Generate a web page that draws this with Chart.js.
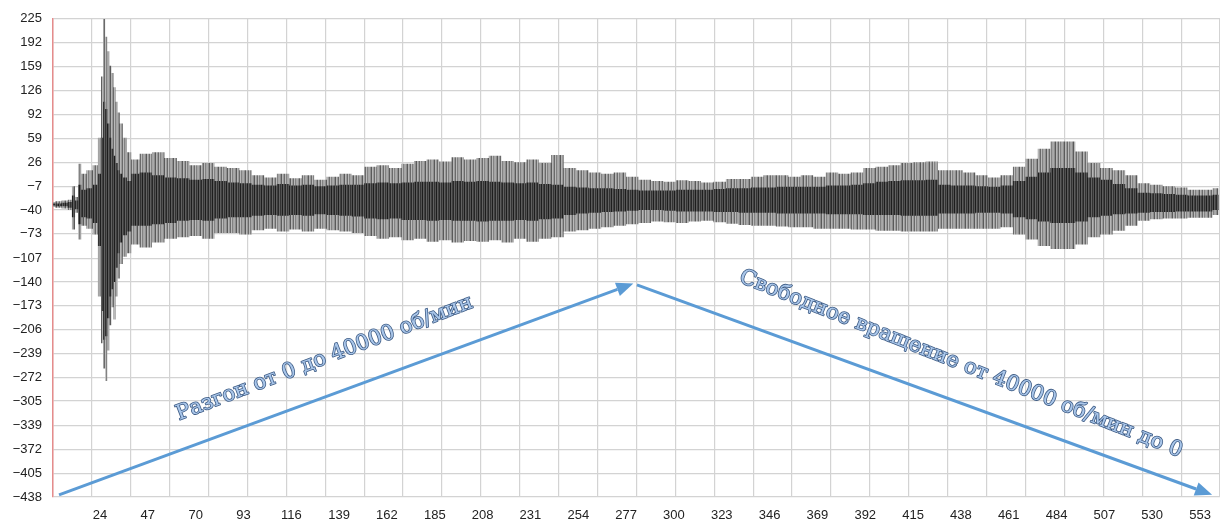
<!DOCTYPE html>
<html>
<head>
<meta charset="utf-8">
<script src="https://cdn.jsdelivr.net/npm/chart.js@4"></script>
<style>
  body { margin: 0; background: #fff; }
  canvas { display: block; }
</style>
</head>
<body>
<canvas id="vibChart" width="1220" height="522"></canvas>
<script>
// Vibration signal envelope (x = sample index)
const sampleX = [1, 4, 7, 10, 11, 13, 14, 16, 19, 22,
  24, 25, 26, 27, 28, 29, 30, 31, 32, 33, 34, 36, 38,
  40, 46, 52, 58, 64, 70, 76, 82, 88, 94, 100, 106, 112, 118, 124, 130, 136, 142, 148, 154,
  160, 166, 172, 178, 184, 190, 196, 202, 208, 214, 220, 226, 232, 238, 244, 250, 256, 262,
  268, 274, 280, 286, 292, 298, 304, 310, 316, 322, 328, 334, 340, 346, 352, 358, 364, 370,
  376, 382, 388, 394, 400, 406, 412, 418, 424, 430, 436, 442, 448, 454, 460, 466, 472, 478,
  484, 490, 496, 502, 508, 514, 520, 526, 532, 538, 544, 550, 556, 562];

// outer (light) envelope
const outerHigh = [-29, -28, -27, -26, -7, -22, 24, 10, 15, 22,
  60, 145, 225, 200, 180, 160, 150, 130, 110, 95, 80, 60, 40,
  30, 38, 40, 32, 28, 22, 25, 20, 18, 15, 8, 5, 10, 4, 8, 2, 6, 10, 8, 20,
  22, 18, 24, 28, 30, 27, 33, 30, 32, 35, 28, 26, 30, 25, 36, 18, 15, 12,
  10, 12, 6, 2, 0, -1, 1, 0, -2, -1, 3, 3, 6, 8, 8, 6, 8, 6,
  12, 10, 12, 18, 20, 22, 25, 26, 27, 15, 15, 12, 8, 5, 8, 20, 31, 45,
  55, 55, 41, 25, 18, 15, 8, -3, -5, -7, -9, -12, -12, -10];
const outerLow = [-36, -37, -38, -40, -67, -44, -81, -62, -66, -74,
  -160, -225, -260, -277, -235, -200, -175, -192, -160, -135, -115, -105, -100,
  -88, -92, -85, -80, -78, -76, -80, -72, -72, -74, -68, -66, -70, -67, -70, -66, -68, -70, -72, -76,
  -80, -78, -82, -80, -84, -82, -85, -83, -84, -82, -85, -80, -84, -80, -78, -70, -68, -66,
  -64, -62, -60, -58, -56, -57, -58, -56, -55, -57, -59, -61, -62, -62, -63, -64, -64, -66,
  -66, -66, -67, -67, -69, -69, -70, -70, -70, -66, -66, -66, -66, -66, -64, -74, -81, -90,
  -94, -94, -88, -78, -74, -69, -62, -55, -53, -52, -52, -51, -51, -47];

// inner (dark) core
const innerHigh = [-31, -31, -30, -29, -20, -27, -5, -12, -10, -5,
  10, 60, 110, 100, 80, 60, 45, 35, 25, 15, 10, 5, 0,
  10, 12, 8, 5, 4, 2, 3, 0, -2, -3, -5, -6, -4, -6, -5, -7, -6, -5, -5, -3,
  -2, -3, -2, -1, -1, -2, 0, -1, 0, -1, -2, -3, -2, -4, -5, -8, -9, -10,
  -10, -11, -12, -13, -13, -13, -12, -12, -12, -11, -10, -10, -9, -9, -8, -8, -8, -8,
  -6, -6, -5, -3, -1, 0, 1, 1, 2, -5, -6, -6, -7, -8, -6, 0, 6, 12,
  18, 18, 12, 5, 2, -4, -10, -16, -17, -18, -19, -20, -20, -19];
const innerLow = [-34, -35, -35, -37, -50, -39, -60, -50, -52, -58,
  -90, -180, -220, -215, -190, -160, -150, -140, -120, -100, -85, -75, -70,
  -62, -62, -60, -58, -55, -54, -55, -52, -50, -50, -48, -47, -48, -47, -48, -46, -47, -48, -49, -52,
  -53, -52, -54, -54, -55, -54, -55, -55, -56, -55, -55, -54, -55, -53, -52, -47, -45, -44,
  -43, -42, -41, -40, -40, -41, -42, -42, -42, -43, -43, -44, -44, -44, -45, -45, -45, -45,
  -46, -46, -46, -47, -47, -47, -48, -48, -48, -45, -45, -45, -44, -44, -45, -50, -53, -56,
  -58, -58, -56, -50, -48, -46, -45, -44, -43, -43, -42, -42, -42, -40];

// axis ticks
const xTicks = [24, 47, 70, 93, 116, 139, 162, 185, 208, 231, 254, 277, 300, 323, 346, 369,
  392, 415, 438, 461, 484, 507, 530, 553];
const yTicks = [-438, -405, -372, -339, -305, -272, -239, -206, -173, -140, -107, -73, -40,
  -7, 26, 59, 92, 126, 159, 192, 225];

// annotations (data units)
const arrows = [
  { from: [4.3, -435], to: [280.5, -142] },
  { from: [282.2, -144], to: [558.8, -435] }
];
const notes = [
  { text: 'Разгон от 0 до 40000 об/мин', x: 132, y: -246, angle: -21 },
  { text: 'Свободное вращение от 40000 об/мин до 0', x: 438, y: -254, angle: 21.7 }
];

// vertical-stripe fills to mimic the dense trace
function stripes(colors) {
  const c = document.createElement('canvas');
  c.width = colors.length;
  c.height = 1;
  const g = c.getContext('2d');
  colors.forEach((col, i) => { g.fillStyle = col; g.fillRect(i, 0, 1, 1); });
  return g.createPattern(c, 'repeat');
}
const outerFill = stripes(['#aaaaaa', '#8e8e8e', '#5a5a5a', '#b6b6b6', '#9a9a9a', '#6a6a6a', '#bababa', '#828282', '#a4a4a4']);
const innerFill = stripes(['#333333', '#525252', '#1e1e1e', '#5c5c5c', '#404040', '#282828', '#626262']);

function series(values) {
  return sampleX.map((x, i) => ({ x: x, y: values[i] }));
}

const annotate = {
  id: 'annotate',
  afterDatasetsDraw(chart) {
    const ctx = chart.ctx;
    const sx = chart.scales.x, sy = chart.scales.y;
    ctx.save();
    arrows.forEach(a => {
      const x1 = sx.getPixelForValue(a.from[0]), y1 = sy.getPixelForValue(a.from[1]);
      const x2 = sx.getPixelForValue(a.to[0]), y2 = sy.getPixelForValue(a.to[1]);
      const ang = Math.atan2(y2 - y1, x2 - x1);
      const head = 17, half = 7;
      const bx = x2 - head * Math.cos(ang), by = y2 - head * Math.sin(ang);
      ctx.strokeStyle = '#5b9bd5';
      ctx.fillStyle = '#5b9bd5';
      ctx.lineWidth = 3;
      ctx.beginPath();
      ctx.moveTo(x1, y1);
      ctx.lineTo(bx, by);
      ctx.stroke();
      ctx.beginPath();
      ctx.moveTo(x2, y2);
      ctx.lineTo(bx + half * Math.sin(ang), by - half * Math.cos(ang));
      ctx.lineTo(bx - half * Math.sin(ang), by + half * Math.cos(ang));
      ctx.closePath();
      ctx.fill();
    });
    notes.forEach(n => {
      ctx.save();
      ctx.translate(sx.getPixelForValue(n.x), sy.getPixelForValue(n.y));
      ctx.rotate(n.angle * Math.PI / 180);
      ctx.font = '21px "DejaVu Serif"';
      ctx.textAlign = 'center';
      ctx.textBaseline = 'middle';
      ctx.lineJoin = 'round';
      ctx.strokeStyle = '#3d5b84';
      ctx.lineWidth = 1.6;
      ctx.strokeText(n.text, 0, 0);
      ctx.fillStyle = '#a9c6ea';
      ctx.fillText(n.text, 0, 0);
      ctx.restore();
    });
    ctx.restore();
  }
};

const ctx = document.getElementById('vibChart').getContext('2d');
new Chart(ctx, {
  type: 'line',
  data: {
    datasets: [
      { data: series(innerHigh), fill: '+1', backgroundColor: innerFill },
      { data: series(innerLow), fill: false },
      { data: series(outerHigh), fill: '+1', backgroundColor: outerFill },
      { data: series(outerLow), fill: false }
    ]
  },
  options: {
    responsive: false,
    animation: false,
    layout: { padding: { top: 14, right: 0, left: 0, bottom: 0 } },
    elements: {
      point: { radius: 0 },
      line: { borderWidth: 0, stepped: 'middle', tension: 0 }
    },
    plugins: {
      legend: { display: false },
      tooltip: { enabled: false }
    },
    scales: {
      x: {
        type: 'linear',
        position: 'bottom',
        min: 1.4,
        max: 562.6,
        grid: { display: false },
        border: { display: false },
        afterBuildTicks: s => { s.ticks = xTicks.map(v => ({ value: v })); },
        afterFit: s => { s.height = 25; },
        ticks: {
          color: '#222',
          font: { family: 'Liberation Sans', size: 13 },
          padding: 3,
          maxRotation: 0,
          autoSkip: false
        }
      },
      xg: {
        type: 'linear',
        position: 'bottom',
        min: 0,
        max: 30,
        afterBuildTicks: s => { s.ticks = Array.from({ length: 31 }, (_, i) => ({ value: i })); },
        afterFit: s => { s.height = 0; },
        ticks: { display: false },
        grid: { color: '#d3d3d3', lineWidth: 1.2, drawTicks: false },
        border: { display: false }
      },
      y: {
        min: -438,
        max: 225,
        afterBuildTicks: s => { s.ticks = yTicks.map(v => ({ value: v })); },
        afterFit: s => { s.width = 53; },
        ticks: {
          color: '#222',
          font: { family: 'Liberation Sans', size: 13 },
          padding: 11,
          callback: v => (v < 0 ? '\u2212' + Math.abs(v) : String(v))
        },
        grid: { color: '#d3d3d3', lineWidth: 1.2, drawTicks: false },
        border: { color: '#e58c8c', width: 1.5 }
      }
    }
  },
  plugins: [annotate]
});
</script>
</body>
</html>
